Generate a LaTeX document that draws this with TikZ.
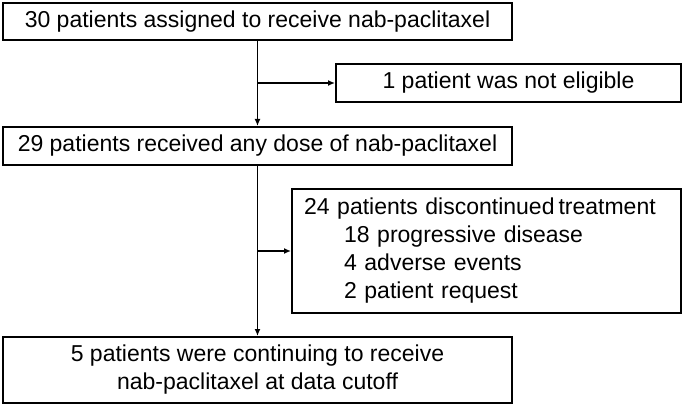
\documentclass[tikz,border=0pt]{standalone}
\usepackage{fontspec}
\setmainfont{Liberation Sans}
\usetikzlibrary{arrows.meta}

\begin{document}
\begin{tikzpicture}[x=1pt, y=-1pt,
	box/.style={draw, line width=2pt, inner sep=0pt, font=\fontsize{23}{28}\selectfont},
	arr/.style={line width=1.8pt, -{Latex[length=7pt,width=6pt]}}]

	\useasboundingbox (0,0) rectangle (683,406);

	\coordinate (assignedC) at (257.5, 21.5);
	\coordinate (ineligibleC) at (508.5, 83);
	\coordinate (receivedC) at (257.5, 146);
	\coordinate (discontC) at (486.5, 251);
	\coordinate (continuingC) at (257.5, 370);

	\node[box, minimum width=509pt, minimum height=37pt] (assigned) at (assignedC) {30 patients assigned to receive nab-paclitaxel};
	\node[box, minimum width=345pt, minimum height=38pt] (ineligible) at (ineligibleC) {1 patient was not eligible};
	\node[box, minimum width=509pt, minimum height=38pt] (received) at (receivedC) {29 patients received any dose of nab-paclitaxel};
	\node[box, minimum height=124pt, text width=365pt, inner xsep=12pt, align=left] (discont) at (discontC)
		{\mbox{24 patients discontinued\hspace{4pt}treatment}\\
		\hspace*{40pt}18 progressive disease\\
		\hspace*{40pt}4 adverse events\\
		\hspace*{40pt}2 patient request};
	\node[box, minimum width=509pt, minimum height=66pt, align=center] (continuing) at (continuingC)
		{5 patients were continuing to receive\\ nab-paclitaxel at data cutoff};

	% main flow
	\draw[arr] (assigned) -- (received);
	\draw[arr] (received) -- (continuing);

	% exclusions
	\draw[arr] (assigned.south |- ineligible) -- (ineligible.west);
	\draw[arr] (received.south |- discont) -- (discont.west);
\end{tikzpicture}
\end{document}
